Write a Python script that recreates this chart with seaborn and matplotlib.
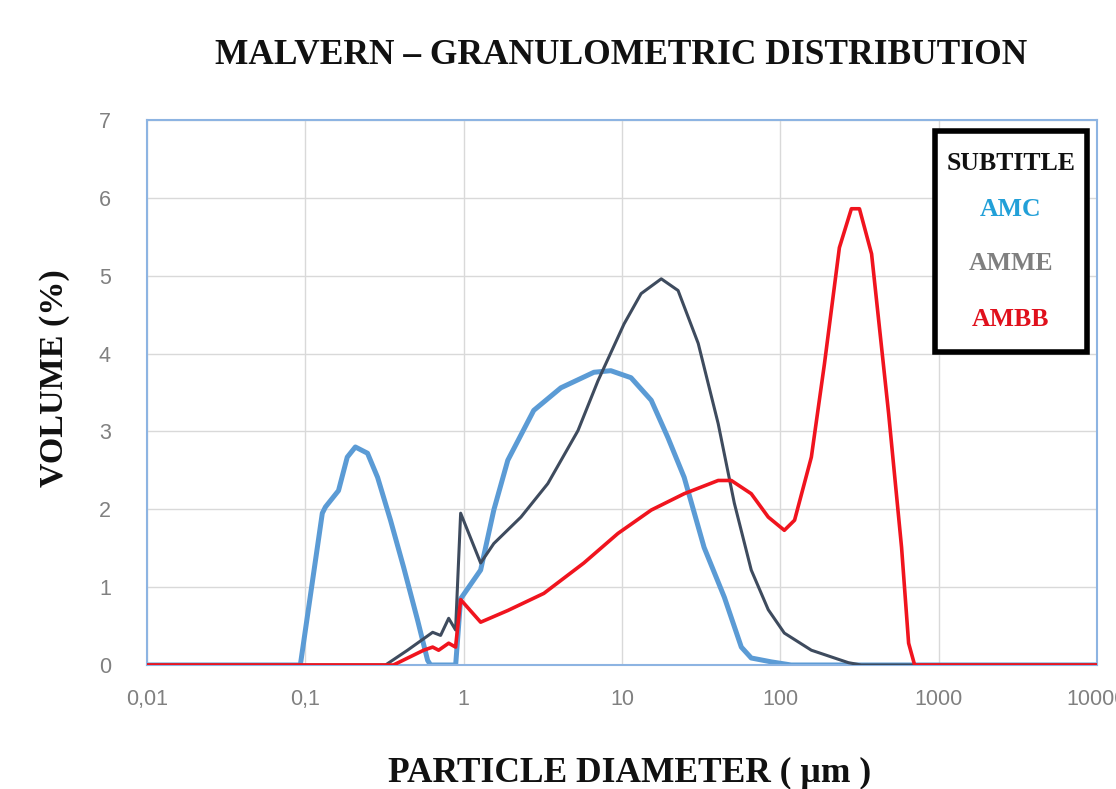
import numpy as np
import pandas as pd
import matplotlib
matplotlib.use("Agg")
import matplotlib.pyplot as plt
import seaborn as sns
from matplotlib.patches import Rectangle

# ---- data ----
amc_x = [0.01, 0.093, 0.128, 0.134, 0.162, 0.184, 0.207, 0.247, 0.286, 0.345, 0.417,
         0.511, 0.592, 0.618, 0.89, 0.957, 1.28, 1.55, 1.90, 2.77, 4.11, 6.65, 8.5,
         11.4, 15.3, 19.5, 24.7, 33.0, 44.3, 56.7, 65.5, 87.7, 117, 10000]
amc_y = [0, 0, 1.95, 2.03, 2.24, 2.67, 2.80, 2.72, 2.41, 1.86, 1.26,
         0.58, 0.06, 0, 0, 0.85, 1.22, 1.99, 2.63, 3.27, 3.56, 3.76, 3.78,
         3.69, 3.40, 2.92, 2.41, 1.51, 0.87, 0.23, 0.09, 0.04, 0.0, 0]

amme_x = [0.01, 0.321, 0.442, 0.637, 0.715, 0.804, 0.889, 0.957, 1.28, 1.55, 2.30,
          3.40, 5.27, 7.05, 10.3, 13.2, 17.7, 22.6, 30.3, 40.5, 51.2, 65.5, 83.9,
          106, 157, 269, 324, 10000]
amme_y = [0, 0, 0.19, 0.42, 0.38, 0.60, 0.45, 1.95, 1.31, 1.56, 1.90,
          2.33, 3.01, 3.65, 4.38, 4.77, 4.96, 4.81, 4.13, 3.10, 2.08, 1.22, 0.71,
          0.41, 0.19, 0.03, 0, 0]

ambb_x = [0.01, 0.360, 0.559, 0.637, 0.695, 0.804, 0.889, 0.957, 1.28, 1.90, 3.21,
          5.74, 9.43, 15.3, 24.7, 40.5, 49.0, 65.5, 83.9, 106, 123, 157, 190, 236,
          281, 316, 377, 483, 583, 646, 705, 10000]
ambb_y = [0, 0, 0.19, 0.23, 0.19, 0.28, 0.23, 0.84, 0.55, 0.70, 0.92,
          1.31, 1.69, 1.99, 2.20, 2.37, 2.37, 2.20, 1.90, 1.73, 1.86, 2.67, 3.87, 5.36,
          5.86, 5.86, 5.28, 3.23, 1.51, 0.28, 0.0, 0]

x_ticks = [0.01, 0.1, 1, 10, 100, 1000, 10000]
x_tick_labels = ["0,01", "0,1", "1", "10", "100", "1000", "10000"]
y_ticks = [0, 1, 2, 3, 4, 5, 6, 7]

series_names = ["AMC", "AMME", "AMBB"]
colors = {"AMC": "#5B9BD5", "AMME": "#3E4B5E", "AMBB": "#F0141E"}
widths = {"AMC": 3.6, "AMME": 2.2, "AMBB": 2.6}
legend_colors = {"AMC": "#22A0D8", "AMME": "#7F7F7F", "AMBB": "#E0101C"}

df = pd.concat([
    pd.DataFrame({"x": amc_x, "y": amc_y, "s": "AMC"}),
    pd.DataFrame({"x": amme_x, "y": amme_y, "s": "AMME"}),
    pd.DataFrame({"x": ambb_x, "y": ambb_y, "s": "AMBB"}),
])

sns.set_style("white")
serif = ["Liberation Serif", "DejaVu Serif"]
sans = ["Liberation Sans", "DejaVu Sans"]
plt.rcParams["font.family"] = sans

W, H = 1116, 789
fig = plt.figure(figsize=(W / 100, H / 100), dpi=100)
ax = fig.add_axes([147 / W, 1 - 665 / H, (1097 - 147) / W, (665 - 120) / H])

for name in series_names:
    sns.lineplot(data=df[df.s == name], x="x", y="y", color=colors[name],
                 linewidth=widths[name], estimator=None, sort=True, ax=ax,
                 legend=False, zorder=3 if name != "AMC" else 2)

ax.set_xscale("log")
ax.set_xlim(0.01, 10000)
ax.set_ylim(0, 7)
ax.set_xticks(x_ticks)
ax.set_xticklabels(x_tick_labels)
ax.minorticks_off()
ax.set_yticks(y_ticks)
ax.tick_params(axis="both", length=0, labelsize=15.5, labelcolor="#808080")
ax.tick_params(axis="x", pad=17)
ax.tick_params(axis="y", pad=26)
ax.grid(True, color="#D9D9D9", linewidth=1.0)
ax.set_axisbelow(True)
for sp in ax.spines.values():
    sp.set_color("#8DB4E2")
    sp.set_linewidth(1.5)
    sp.set_visible(True)
ax.set_xlabel("")
ax.set_ylabel("")

fig.text(630 / W, 1 - 773 / H, "PARTICLE DIAMETER ( µm )", fontsize=25.5,
         fontweight="bold", family=serif, ha="center", va="center", color="#111111")
fig.text(55 / W, 1 - 378 / H, "VOLUME (%)", fontsize=24.5, fontweight="bold",
         family=serif, ha="center", va="center", rotation=90, color="#111111")
fig.text(621 / W, 1 - 55 / H, "MALVERN – GRANULOMETRIC DISTRIBUTION", fontsize=25.5,
         fontweight="bold", family=serif, ha="center", va="center", color="#111111")

# custom legend box
box = Rectangle((935 / W, 1 - 352 / H), (1087 - 935) / W, (352 - 131) / H,
                transform=fig.transFigure, facecolor="white", edgecolor="black",
                linewidth=4, zorder=5)
fig.patches.append(box)
cx = 1011 / W
fig.text(cx, 1 - 163 / H, "SUBTITLE", fontsize=18.5, fontweight="bold", family=serif,
         ha="center", va="center", color="#111111", zorder=6)
ypos = {"AMC": 210, "AMME": 264, "AMBB": 320}
for name in series_names:
    fig.text(cx, 1 - ypos[name] / H, name, fontsize=18.5, fontweight="bold",
             family=serif, ha="center", va="center", color=legend_colors[name], zorder=6)

fig.savefig("out.png", dpi=100)
